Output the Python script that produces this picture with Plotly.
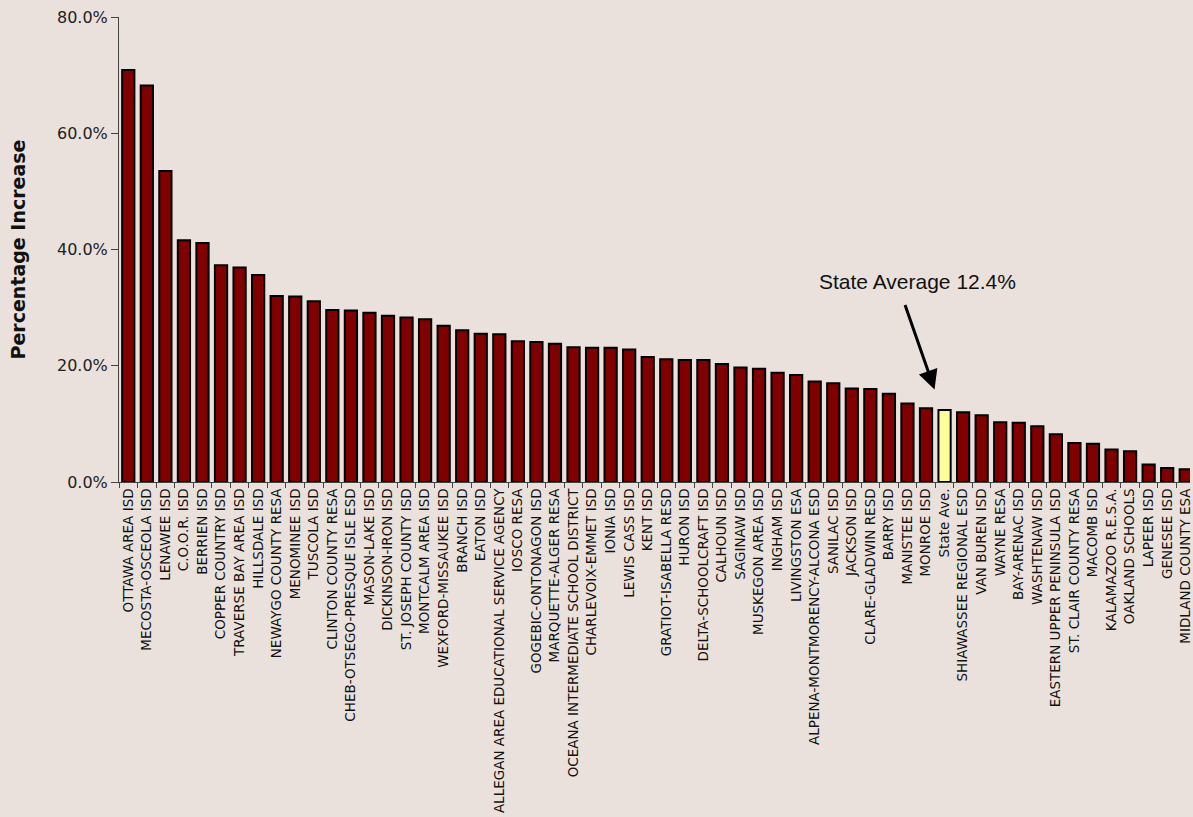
import plotly.graph_objects as go

districts = [
    "OTTAWA AREA ISD", "MECOSTA-OSCEOLA ISD", "LENAWEE ISD", "C.O.O.R. ISD", "BERRIEN ISD",
    "COPPER COUNTRY ISD", "TRAVERSE BAY AREA ISD", "HILLSDALE ISD", "NEWAYGO COUNTY RESA",
    "MENOMINEE ISD", "TUSCOLA ISD", "CLINTON COUNTY RESA", "CHEB-OTSEGO-PRESQUE ISLE ESD",
    "MASON-LAKE ISD", "DICKINSON-IRON ISD", "ST. JOSEPH COUNTY ISD", "MONTCALM AREA ISD",
    "WEXFORD-MISSAUKEE ISD", "BRANCH ISD", "EATON ISD",
    "ALLEGAN AREA EDUCATIONAL SERVICE AGENCY", "IOSCO RESA", "GOGEBIC-ONTONAGON ISD",
    "MARQUETTE-ALGER RESA", "OCEANA INTERMEDIATE SCHOOL DISTRICT", "CHARLEVOIX-EMMET ISD",
    "IONIA ISD", "LEWIS CASS ISD", "KENT ISD", "GRATIOT-ISABELLA RESD", "HURON ISD",
    "DELTA-SCHOOLCRAFT ISD", "CALHOUN ISD", "SAGINAW ISD", "MUSKEGON AREA ISD", "INGHAM ISD",
    "LIVINGSTON ESA", "ALPENA-MONTMORENCY-ALCONA ESD", "SANILAC ISD", "JACKSON ISD",
    "CLARE-GLADWIN RESD", "BARRY ISD", "MANISTEE ISD", "MONROE ISD", "State Ave.",
    "SHIAWASSEE REGIONAL ESD", "VAN BUREN ISD", "WAYNE RESA", "BAY-ARENAC ISD",
    "WASHTENAW ISD", "EASTERN UPPER PENINSULA ISD", "ST. CLAIR COUNTY RESA", "MACOMB ISD",
    "KALAMAZOO R.E.S.A.", "OAKLAND SCHOOLS", "LAPEER ISD", "GENESEE ISD", "MIDLAND COUNTY ESA",
]

pct_increase = [
    70.9, 68.2, 53.5, 41.6, 41.1, 37.3, 36.9, 35.6, 32.0, 31.9,
    31.1, 29.6, 29.5, 29.1, 28.6, 28.3, 28.0, 26.9, 26.1, 25.5,
    25.4, 24.2, 24.1, 23.8, 23.2, 23.1, 23.1, 22.8, 21.5, 21.1,
    21.0, 21.0, 20.3, 19.7, 19.5, 18.8, 18.4, 17.3, 17.0, 16.1,
    16.0, 15.2, 13.5, 12.7, 12.4, 12.0, 11.5, 10.3, 10.2, 9.6,
    8.2, 6.7, 6.6, 5.6, 5.3, 3.0, 2.4, 2.2,
]

highlight = "State Ave."
annotation_text = "State Average 12.4%"
y_ticks = [0, 20, 40, 60, 80]

bg = "#EBE1DC"
colors = ["#FFFF99" if d == highlight else "#800000" for d in districts]

fig = go.Figure()
fig.add_trace(go.Bar(
    x=districts, y=pct_increase,
    marker=dict(color=colors, line=dict(color="black", width=2)),
    width=0.66,
))

hi_idx = districts.index(highlight)

fig.add_annotation(
    x=hi_idx - 0.54, y=15.9, xref="x", yref="y",
    ax=-30, ay=-86, axref="pixel", ayref="pixel",
    showarrow=True, arrowhead=2, arrowsize=1.3, arrowwidth=3, arrowcolor="black",
    text="",
)
fig.add_annotation(
    x=hi_idx - 1.45, y=34.5, xref="x", yref="y",
    text=annotation_text, showarrow=False,
    font=dict(family="Liberation Sans", size=21, color="#111111"),
)

fig.update_layout(
    width=1193, height=817,
    margin=dict(l=119, r=0, t=17, b=335),
    paper_bgcolor=bg, plot_bgcolor=bg,
    showlegend=False,
    font=dict(family="DejaVu Sans", color="#111111"),
)
fig.update_xaxes(
    type="category",
    range=[-0.5, len(districts) - 0.77],
    tickangle=-90,
    tickfont=dict(family="DejaVu Sans", size=13.5, color="#111111"),
    showline=True, linecolor="#444444", linewidth=1,
    ticks="outside", ticklen=5, tickcolor="#444444", tickson="boundaries",
    showgrid=False,
)
fig.update_yaxes(
    range=[0, 80],
    tickvals=y_ticks,
    ticktext=[f"{v:.1f}%" for v in y_ticks],
    tickfont=dict(family="DejaVu Sans", size=16, color="#222222"),
    showline=True, linecolor="#444444", linewidth=1,
    ticks="outside", ticklen=7, tickcolor="#444444",
    showgrid=False, zeroline=False,
    title=dict(text="<b>Percentage Increase</b>",
               font=dict(family="DejaVu Sans", size=19, color="#111111"),
               standoff=26),
)

fig.write_html(
    "out.html",
    config={"displayModeBar": False},
    post_script="document.body.style.margin='0';document.body.style.background='" + bg + "';",
)
